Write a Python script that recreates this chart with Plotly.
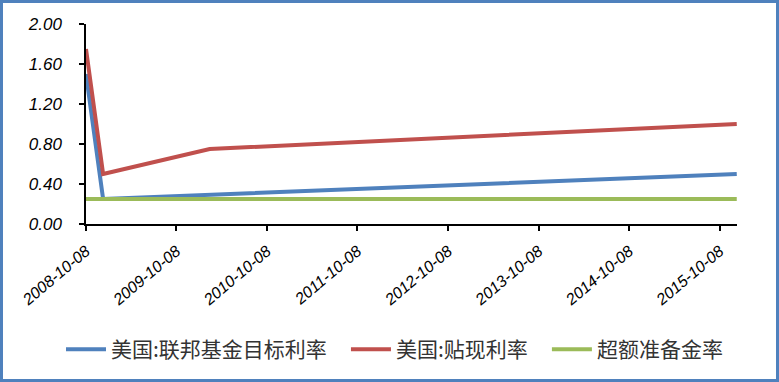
import plotly.graph_objects as go

# Data
fed_dates = ["2008-10-08", "2008-12-16", "2015-12-16"]
fed_values = [1.50, 0.25, 0.50]
disc_dates = ["2008-10-08", "2008-12-16", "2010-02-19", "2015-12-16"]
disc_values = [1.75, 0.50, 0.75, 1.00]
ioer_dates = ["2008-10-08", "2015-12-16"]
ioer_values = [0.25, 0.25]

series_names = ["美国:联邦基金目标利率", "美国:贴现利率", "超额准备金率"]
tick_dates = ["2008-10-08", "2009-10-08", "2010-10-08", "2011-10-08",
              "2012-10-08", "2013-10-08", "2014-10-08", "2015-10-08"]
tick_labels = ["2008-10-08", "2009-10-08", "2010-10-08", "2011-10-08",
               "2012-10-08", "2013-10-08", "2014-10-08", "2015-10-08"]
y_ticks = [0.0, 0.4, 0.8, 1.2, 1.6, 2.0]

colors = ["#4F81BD", "#C0504D", "#9BBB59"]

W, H = 779, 382
L, R, T, B = 86, 42, 24, 158

PAD = "\u00a0\u00a0\u00a0"

fig = go.Figure()
for dates, vals, name, c, pad in [(fed_dates, fed_values, series_names[0], colors[0], PAD),
                                  (disc_dates, disc_values, series_names[1], colors[1], PAD),
                                  (ioer_dates, ioer_values, series_names[2], colors[2], "")]:
    fig.add_trace(go.Scatter(x=dates, y=vals, name=name + pad, mode="lines",
                             line=dict(color=c, width=4)))

fig.update_xaxes(type="date", range=["2008-10-08", "2015-12-17"],
                 tickvals=tick_dates, ticktext=tick_labels, tickangle=-40,
                 showline=True, linecolor="#000000", linewidth=1.5,
                 ticks="outside", ticklen=5, tickcolor="#000000", tickwidth=1.5,
                 showgrid=False, zeroline=False, ticklabelstandoff=5,
                 tickfont=dict(family="Liberation Sans", size=16, color="#000000", style="italic"))
fig.update_yaxes(range=[0, 2.0], tickvals=y_ticks,
                 ticktext=[f"{v:.2f}" for v in y_ticks],
                 showline=True, linecolor="#000000", linewidth=1.5,
                 ticks="outside", ticklen=5, tickcolor="#000000", tickwidth=1.5,
                 showgrid=False, zeroline=False,
                 tickfont=dict(family="Liberation Sans", size=17, color="#000000", style="italic"),
                 ticklabelstandoff=14)

pw = W - L - R
ph = H - T - B
def px(x):
    return (x - L) / pw
def py(y):
    return (H - B - y) / ph

fig.add_shape(type="rect", xref="paper", yref="paper",
              x0=px(1.5), x1=px(777.5), y0=py(380.5), y1=py(1.5),
              line=dict(color="#4F81BD", width=3), fillcolor="rgba(0,0,0,0)")

fig.update_layout(width=W, height=H,
                  margin=dict(l=L, r=R, t=T, b=B, autoexpand=False),
                  paper_bgcolor="#FFFFFF", plot_bgcolor="#FFFFFF",
                  showlegend=True,
                  legend=dict(orientation="h", x=px(61), y=py(329), xanchor="left", yanchor="top",
                              font=dict(family="Noto Sans CJK SC", size=21, color="#333333"),
                              itemwidth=40, tracegroupgap=0, bgcolor="rgba(0,0,0,0)"))

fig.write_html("out.html")
